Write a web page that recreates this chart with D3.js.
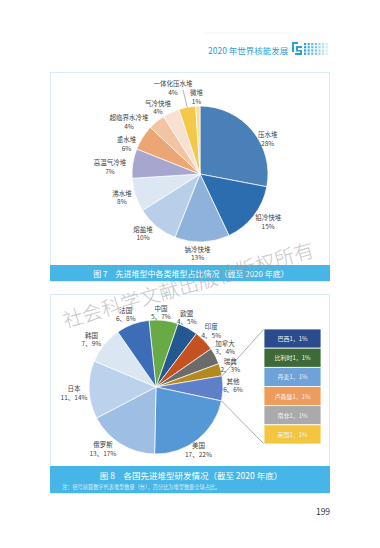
<!DOCTYPE html>
<html>
<head>
<meta charset="utf-8">
<script src="https://cdn.jsdelivr.net/npm/d3@7"></script>
<style>
  html, body { margin: 0; padding: 0; background: #fff; }
  svg { display: block; font-family: "Noto Sans CJK SC", "Noto Sans", sans-serif; }
</style>
</head>
<body>
<svg id="chart"></svg>
<script>
// Figure 7: reactor types (share %)
const reactorTypes  = ["压水堆", "铅冷快堆", "钠冷快堆", "熔盐堆", "沸水堆", "高温气冷堆", "重水堆", "超临界水冷堆", "气冷快堆", "一体化压水堆", "微堆"];
const reactorShares = [28, 15, 13, 10, 8, 7, 6, 4, 4, 4, 1];

// Figure 8: countries (count, share %)
const countries     = ["中国", "欧盟", "印度", "加拿大", "瑞典", "其他", "美国", "俄罗斯", "日本", "韩国", "法国"];
const countryCounts = [5, 4, 4, 3, 2, 6, 17, 13, 11, 7, 6];
const countryShares = [7, 5, 5, 4, 3, 6, 22, 17, 14, 9, 8];

// breakdown of "其他"
const otherCountries = ["巴西", "比利时", "丹麦", "卢森堡", "南非", "英国"];
const otherCounts    = [1, 1, 1, 1, 1, 1];
const otherShares    = [1, 1, 1, 1, 1, 1];

// colours
const reactorColors = ["#4a80b8", "#2c6db0", "#8fb2dc", "#b8cfea", "#dde7f4", "#a6a6cf", "#eba674", "#f4c3a1", "#f8e0d2", "#f4c84a", "#f8de8e"];
const countryColors = ["#68aa46", "#245890", "#c4511f", "#6b6b6b", "#b48a20", "#5d80c8", "#5697d6", "#9ebee4", "#bbd1ec", "#dbe6f3", "#3c6db6"];
const otherColors   = ["#2b4b8c", "#3d6a36", "#6fa2d8", "#ee9b5c", "#aaaaaa", "#f4c63f"];

const width  = 380,
      height = 548;
const deg    = Math.PI / 180;
const blue   = "#47b6e6";

// label nudges (px) from the label-arc centroid, one per slice
const reactorNudge = [[6, 15], [5, -2], [-5, -1], [-6, -3], [-2, -2], [-11, 5], [-6, 12], [-20, 9], [-8, 5], [-12, -8], [-1, 2]];
const countryNudge = [[-4, 2], [-6, -1.5], [-1, -3], [0, -4], [-1, -2], [-1, -4], [-6, 1], [-12, -5], [-4, 2], [-4, 1], [-3, 0]];

const svg = d3.select("#chart")
    .attr("width", width)
    .attr("height", height)
    .attr("viewBox", [0, 0, width, height]);

svg.append("rect").attr("width", width).attr("height", height).attr("fill", "#fff");

// ---- page header
svg.append("line")
    .attr("x1", 205).attr("x2", 292).attr("y1", 33).attr("y2", 33)
    .attr("stroke", "#f0f0f0").attr("stroke-width", 0.8);

svg.append("text")
    .attr("x", 208).attr("y", 54)
    .attr("font-size", 8.5)
    .attr("fill", "#2b9fd8")
    .text("2020 年世界核能发展");

const logo = svg.append("g").attr("transform", "translate(292,42)");
logo.append("path")
    .attr("d", "M0,0 H6 V2 H2 V10 H0 Z M4,4 H10 V6 H6 V8 H10 V13 H3 V11 H8 V9.5 H4 Z")
    .attr("fill", "#2b9fd8");
for (let c = 0; c < 7; c++) {
  for (let r = 0; r < 4; r++) {
    logo.append("rect")
        .attr("x", 12 + c * 3.6).attr("y", 1 + r * 3.2)
        .attr("width", 2.2).attr("height", 2.2)
        .attr("fill", "#2b9fd8")
        .attr("opacity", 1 - c * 0.13);
  }
}

// ---- panels
function panel(y0, y1, barY, barH) {
  svg.append("rect")
      .attr("x", 50.5).attr("y", y0 + 0.5)
      .attr("width", 279).attr("height", y1 - y0)
      .attr("fill", "#fff")
      .attr("stroke", "#dcecf4");
  svg.append("rect")
      .attr("x", 50).attr("y", barY)
      .attr("width", 280).attr("height", barH)
      .attr("fill", blue);
}
panel(72, 281, 265, 16);
panel(294, 493, 466, 27);

svg.append("text")
    .attr("x", 191).attr("y", 273.5)
    .attr("text-anchor", "middle").attr("dominant-baseline", "central")
    .attr("font-size", 8).attr("fill", "#fff")
    .text("图 7　先进堆型中各类堆型占比情况（截至 2020 年底）");

svg.append("text")
    .attr("x", 191).attr("y", 475)
    .attr("text-anchor", "middle").attr("dominant-baseline", "central")
    .attr("font-size", 8.5).attr("fill", "#fff")
    .text("图 8　各国先进堆型研发情况（截至 2020 年底）");

svg.append("text")
    .attr("x", 62).attr("y", 486.5)
    .attr("dominant-baseline", "central")
    .attr("font-size", 5.2).attr("fill", "#dff1fb")
    .text("注：括号前面数字代表堆型数量（台），百分比为堆型数量全球占比。");

// ---- pie helper
function drawPie(cx, cy, r, labelR, startDeg, names, values, colors, lines, nudge) {
  const pie = d3.pie()
      .sort(null)
      .value(d => d)
      .startAngle(startDeg * deg)
      .endAngle(startDeg * deg + 2 * Math.PI);
  const arcs     = pie(values);
  const arc      = d3.arc().innerRadius(0).outerRadius(r);
  const labelArc = d3.arc().innerRadius(labelR).outerRadius(labelR);

  const g = svg.append("g").attr("transform", `translate(${cx},${cy})`);

  g.selectAll("path")
    .data(arcs)
    .join("path")
      .attr("d", arc)
      .attr("fill", (d, i) => colors[i])
      .attr("stroke", "#fff")
      .attr("stroke-width", 0.7);

  const labels = g.append("g")
      .attr("font-size", 6.5)
      .attr("fill", "#444")
      .attr("text-anchor", "middle")
    .selectAll("text")
    .data(arcs)
    .join("text")
      .attr("dominant-baseline", "central")
      .attr("transform", (d, i) => {
        const [x, y] = labelArc.centroid(d);
        return `translate(${x + nudge[i][0]},${y + nudge[i][1]})`;
      });
  labels.append("tspan").attr("x", 0).attr("y", -4).text((d, i) => names[i]);
  labels.append("tspan").attr("x", 0).attr("y", 4.5).text((d, i) => lines[i]);

  return { g, arcs, arc, labelArc };
}

// ---- figure 7
const p1 = drawPie(200, 174, 68, 80, 0, reactorTypes, reactorShares, reactorColors,
    reactorShares.map(v => `${v}%`), reactorNudge);

// leader line for the small "一体化压水堆" slice
{
  const i = reactorTypes.indexOf("一体化压水堆");
  const a = (p1.arcs[i].startAngle + p1.arcs[i].endAngle) / 2;
  const [lx, ly] = p1.labelArc.centroid(p1.arcs[i]);
  p1.g.append("line")
      .attr("x1", Math.sin(a) * 68).attr("y1", -Math.cos(a) * 68)
      .attr("x2", lx + reactorNudge[i][0] + 10).attr("y2", ly + reactorNudge[i][1] + 2.5)
      .attr("stroke", "#666").attr("stroke-width", 0.5);
}

// ---- figure 8
const p2 = drawPie(156, 387, 67, 78, -6, countries, countryShares, countryColors,
    countries.map((c, i) => `${countryCounts[i]}、${countryShares[i]}%`), countryNudge);

// breakdown bar for "其他"
const boxX = 264, boxW = 57;
const y = d3.scaleBand()
    .domain(otherCountries)
    .range([329, 444]);

const other = p2.arcs[countries.indexOf("其他")];
[[other.startAngle, y.range()[0]], [other.endAngle, y.range()[1]]].forEach(([a, yy]) => {
  svg.append("line")
      .attr("x1", 156 + Math.sin(a) * 67).attr("y1", 387 - Math.cos(a) * 67)
      .attr("x2", boxX).attr("y2", yy)
      .attr("stroke", "#777").attr("stroke-width", 0.6);
});

const box = svg.append("g");
box.selectAll("rect")
  .data(otherCountries)
  .join("rect")
    .attr("x", boxX)
    .attr("y", d => y(d))
    .attr("width", boxW)
    .attr("height", y.bandwidth())
    .attr("fill", (d, i) => otherColors[i])
    .attr("stroke", "#fff")
    .attr("stroke-width", 0.8);
box.selectAll("text")
  .data(otherCountries)
  .join("text")
    .attr("x", boxX + boxW / 2)
    .attr("y", d => y(d) + y.bandwidth() / 2)
    .attr("text-anchor", "middle")
    .attr("dominant-baseline", "central")
    .attr("font-size", 6)
    .attr("fill", "#eef2f8")
    .text((d, i) => `${d}${otherCounts[i]}，${otherShares[i]}%`);

// ---- watermark
svg.append("text")
    .attr("transform", "translate(188,284) rotate(-16)")
    .attr("text-anchor", "middle")
    .attr("dominant-baseline", "central")
    .attr("font-size", 20)
    .attr("font-weight", 300)
    .attr("fill", "#9a9a9a")
    .attr("opacity", 0.55)
    .text("社会科学文献出版社版权所有");

// ---- page number
svg.append("text")
    .attr("x", 323).attr("y", 511)
    .attr("text-anchor", "middle").attr("dominant-baseline", "central")
    .attr("font-size", 8.5).attr("fill", "#333")
    .text("199");
</script>
</body>
</html>
